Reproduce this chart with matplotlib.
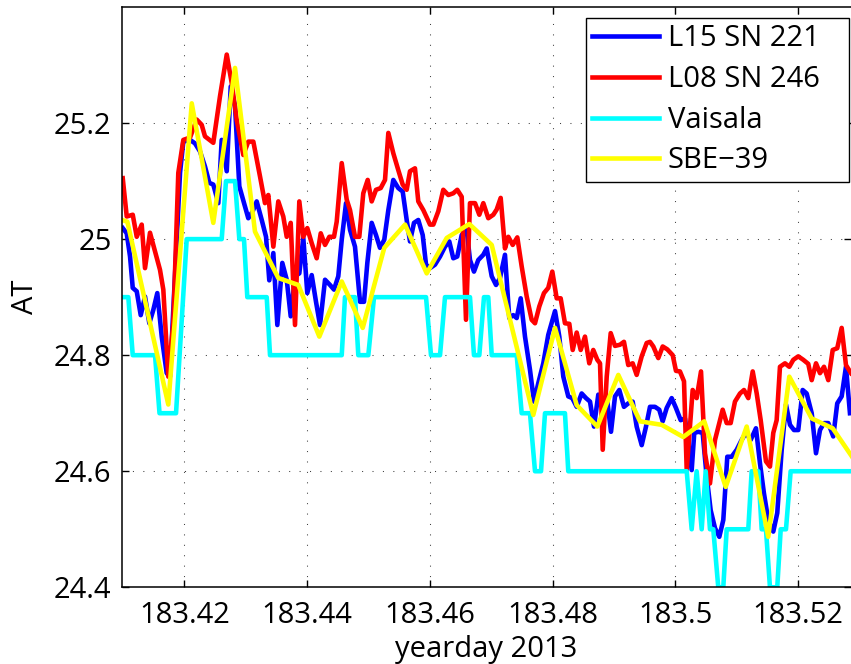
import matplotlib
matplotlib.use("Agg")
import matplotlib.pyplot as plt

# L15 SN 221 (blue)
t_l15 = [183.40997, 183.41062, 183.41116, 183.41160, 183.41225, 183.41290, 183.41360, 183.41430,
         183.41495, 183.41560, 183.41632, 183.41713, 183.41767, 183.41849, 183.41930, 183.41984,
         183.42093, 183.42174, 183.42256, 183.42337, 183.42407, 183.42472, 183.42554, 183.42609,
         183.42691, 183.42756, 183.42826, 183.42896, 183.42972, 183.43042, 183.43114, 183.43179,
         183.43261, 183.43331, 183.43384, 183.43450, 183.43515, 183.43596, 183.43668, 183.43733,
         183.43803, 183.43873, 183.43938, 183.44003, 183.44075, 183.44145, 183.44210, 183.44292,
         183.44373, 183.44438, 183.44508, 183.44564, 183.44634, 183.44699, 183.44780, 183.44862,
         183.44927, 183.44981, 183.45052, 183.45122, 183.45187, 183.45257, 183.45323, 183.45404,
         183.45485, 183.45557, 183.45622, 183.45676, 183.45741, 183.45811, 183.45883, 183.45937,
         183.46002, 183.46083, 183.46165, 183.46246, 183.46316, 183.46381, 183.46446, 183.46518,
         183.46599, 183.46653, 183.46718, 183.46788, 183.46870, 183.46925, 183.47007, 183.47077,
         183.47142, 183.47223, 183.47293, 183.47358, 183.47414, 183.47479, 183.47549, 183.47630,
         183.47696, 183.47766, 183.47847, 183.47928, 183.48038, 183.48108, 183.48173, 183.48254,
         183.48319, 183.48391, 183.48472, 183.48543, 183.48608, 183.48673, 183.48743, 183.48815,
         183.48880, 183.48950, 183.49015, 183.49085, 183.49161, 183.49231, 183.49303, 183.49368,
         183.49450, 183.49520, 183.49585, 183.49666, 183.49736, 183.49792, 183.49857, 183.49938,
         183.50008, 183.50085, 183.50155, 183.50209, 183.50264, 183.50306, 183.50372, 183.50443,
         183.50508, 183.50573, 183.50644, 183.50714, 183.50779, 183.50844, 183.50915, 183.50997,
         183.51078, 183.51148, 183.51225, 183.51311, 183.51376, 183.51441, 183.51511, 183.51593,
         183.51658, 183.51730, 183.51800, 183.51865, 183.51930, 183.52000, 183.52072, 183.52137,
         183.52219, 183.52289, 183.52354, 183.52419, 183.52489, 183.52570, 183.52635, 183.52707,
         183.52777, 183.52842]
at_l15 = [25.019, 25.010, 24.970, 24.916, 24.910, 24.869, 24.901, 24.855,
          24.878, 24.907, 24.832, 24.769, 24.763, 24.941, 25.114, 25.168,
          25.171, 25.165, 25.151, 25.125, 25.097, 25.094, 25.062, 25.171,
          25.117, 25.263, 25.229, 25.091, 25.062, 25.036, 25.048, 25.065,
          25.033, 25.004, 24.929, 24.976, 24.852, 24.959, 24.930, 24.867,
          24.936, 24.941, 25.002, 24.907, 24.938, 24.892, 24.852, 24.930,
          24.921, 24.913, 24.936, 24.999, 25.062, 25.016, 24.987, 24.892,
          24.892, 24.959, 25.028, 25.007, 24.985, 24.999, 25.050, 25.102,
          25.088, 25.082, 25.033, 24.996, 25.028, 25.033, 25.007, 24.956,
          24.950, 24.956, 24.970, 24.987, 24.996, 24.967, 24.970, 25.007,
          25.016, 24.964, 24.944, 24.964, 24.973, 24.984, 24.936, 24.921,
          24.933, 24.973, 24.864, 24.869, 24.864, 24.898, 24.832, 24.775,
          24.720, 24.752, 24.786, 24.835, 24.876, 24.832, 24.763, 24.729,
          24.726, 24.711, 24.734, 24.726, 24.720, 24.677, 24.732, 24.706,
          24.729, 24.668, 24.729, 24.740, 24.711, 24.717, 24.720, 24.677,
          24.645, 24.677, 24.711, 24.711, 24.706, 24.686, 24.709, 24.726,
          24.709, 24.688, 24.691, 24.648, 24.602, 24.666, 24.668, 24.666,
          24.591, 24.533, 24.502, 24.487, 24.516, 24.625, 24.625, 24.637,
          24.654, 24.666, 24.654, 24.674, 24.614, 24.562, 24.516, 24.496,
          24.528, 24.637, 24.715, 24.680, 24.671, 24.671, 24.740, 24.734,
          24.700, 24.631, 24.671, 24.683, 24.683, 24.660, 24.717, 24.729,
          24.780, 24.700]

# L08 SN 246 (red)
t_l08 = [183.40997, 183.41062, 183.41160, 183.41225, 183.41306, 183.41360, 183.41441, 183.41604,
         183.41658, 183.41739, 183.41821, 183.41902, 183.41984, 183.42093, 183.42202, 183.42283,
         183.42337, 183.42472, 183.42581, 183.42691, 183.42772, 183.42853, 183.42961, 183.43042,
         183.43124, 183.43233, 183.43314, 183.43368, 183.43450, 183.43531, 183.43612, 183.43668,
         183.43733, 183.43803, 183.43873, 183.43938, 183.44003, 183.44075, 183.44156, 183.44222,
         183.44292, 183.44362, 183.44438, 183.44482, 183.44564, 183.44645, 183.44699, 183.44780,
         183.44850, 183.44915, 183.44987, 183.45052, 183.45122, 183.45199, 183.45269, 183.45323,
         183.45404, 183.45485, 183.45557, 183.45622, 183.45676, 183.45757, 183.45811, 183.45893,
         183.46002, 183.46056, 183.46137, 183.46218, 183.46300, 183.46381, 183.46446, 183.46518,
         183.46588, 183.46653, 183.46735, 183.46805, 183.46870, 183.46951, 183.47033, 183.47088,
         183.47153, 183.47223, 183.47277, 183.47349, 183.47424, 183.47495, 183.47577, 183.47658,
         183.47712, 183.47782, 183.47858, 183.47928, 183.47994, 183.48065, 183.48130, 183.48200,
         183.48271, 183.48326, 183.48391, 183.48456, 183.48526, 183.48596, 183.48661, 183.48727,
         183.48771, 183.48815, 183.48880, 183.48945, 183.49015, 183.49096, 183.49161, 183.49231,
         183.49303, 183.49368, 183.49450, 183.49531, 183.49585, 183.49639, 183.49720, 183.49792,
         183.49867, 183.49955, 183.50008, 183.50073, 183.50139, 183.50183, 183.50236, 183.50280,
         183.50345, 183.50416, 183.50481, 183.50562, 183.50644, 183.50769, 183.50834, 183.50899,
         183.50969, 183.51051, 183.51116, 183.51186, 183.51258, 183.51323, 183.51388, 183.51474,
         183.51539, 183.51593, 183.51648, 183.51702, 183.51784, 183.51854, 183.51919, 183.52000,
         183.52082, 183.52163, 183.52219, 183.52289, 183.52354, 183.52419, 183.52489, 183.52561,
         183.52635, 183.52707, 183.52777, 183.52859]
at_l08 = [25.105, 25.039, 25.042, 25.004, 25.025, 24.950, 25.011, 24.947,
          24.913, 24.763, 24.856, 25.114, 25.171, 25.175, 25.206, 25.197,
          25.177, 25.166, 25.246, 25.318, 25.269, 25.206, 25.145, 25.168,
          25.168, 25.108, 25.062, 25.076, 24.987, 25.065, 25.039, 25.004,
          25.028, 24.852, 25.065, 25.004, 25.019, 24.993, 24.967, 25.010,
          24.990, 25.004, 25.004, 25.030, 25.131, 25.068, 25.050, 25.004,
          25.004, 25.079, 25.102, 25.065, 25.085, 25.088, 25.102, 25.183,
          25.148, 25.119, 25.094, 25.085, 25.117, 25.122, 25.065, 25.050,
          25.025, 25.025, 25.048, 25.085, 25.076, 25.079, 25.085, 25.073,
          24.861, 25.062, 25.062, 25.042, 25.062, 25.036, 25.042, 25.051,
          25.071, 24.984, 25.004, 24.990, 25.003, 24.953, 24.901, 24.861,
          24.855, 24.884, 24.907, 24.916, 24.944, 24.898, 24.898, 24.855,
          24.854, 24.809, 24.839, 24.809, 24.832, 24.786, 24.809, 24.792,
          24.786, 24.637, 24.763, 24.838, 24.816, 24.818, 24.823, 24.783,
          24.786, 24.766, 24.798, 24.821, 24.823, 24.815, 24.795, 24.815,
          24.810, 24.800, 24.773, 24.772, 24.755, 24.602, 24.677, 24.740,
          24.726, 24.772, 24.631, 24.579, 24.654, 24.706, 24.683, 24.683,
          24.720, 24.734, 24.740, 24.726, 24.772, 24.734, 24.688, 24.617,
          24.608, 24.666, 24.688, 24.780, 24.786, 24.780, 24.792, 24.798,
          24.792, 24.785, 24.757, 24.786, 24.769, 24.780, 24.757, 24.809,
          24.812, 24.847, 24.783, 24.769]

# Vaisala (cyan)
t_vai = [183.40985, 183.41088, 183.41160, 183.41523, 183.41596, 183.41865, 183.42039, 183.42609,
         183.42679, 183.42826, 183.42896, 183.42972, 183.43026, 183.43342, 183.43396, 183.44564,
         183.44617, 183.44780, 183.44834, 183.44997, 183.45090, 183.45937, 183.46018, 183.46165,
         183.46246, 183.46653, 183.46718, 183.46805, 183.46881, 183.46951, 183.47007, 183.47414,
         183.47495, 183.47630, 183.47712, 183.47810, 183.47875, 183.48200, 183.48254, 183.50183,
         183.50264, 183.50345, 183.50427, 183.50492, 183.50562, 183.50616, 183.50697, 183.50779,
         183.50834, 183.51186, 183.51241, 183.51349, 183.51404, 183.51474, 183.51539, 183.51658,
         183.51714, 183.51800, 183.51876, 183.52859]
at_vai = [24.9, 24.9, 24.8, 24.8, 24.7, 24.7, 25.0, 25.0,
          25.1, 25.1, 25.0, 25.0, 24.9, 24.9, 24.8, 24.8,
          24.9, 24.9, 24.8, 24.8, 24.9, 24.9, 24.8, 24.8,
          24.9, 24.9, 24.8, 24.8, 24.9, 24.9, 24.8, 24.8,
          24.7, 24.7, 24.6, 24.6, 24.7, 24.7, 24.6, 24.6,
          24.5, 24.6, 24.5, 24.6, 24.5, 24.5, 24.4, 24.4,
          24.5, 24.5, 24.6, 24.6, 24.5, 24.5, 24.4, 24.4,
          24.5, 24.5, 24.6, 24.6]

# SBE-39 (yellow)
t_sbe = [183.40985, 183.41072, 183.41739, 183.42121, 183.42472, 183.42826, 183.43151, 183.43531,
         183.43857, 183.44199, 183.44564, 183.44906, 183.45257, 183.45595, 183.45948, 183.46274,
         183.46642, 183.47007, 183.47684, 183.48038, 183.48391, 183.48727, 183.49069, 183.49422,
         183.49775, 183.50127, 183.50469, 183.50818, 183.51160, 183.51511, 183.51854, 183.52219,
         183.52561, 183.52908]
at_sbe = [25.033, 25.030, 24.715, 25.234, 25.028, 25.295, 25.013, 24.933,
          24.921, 24.832, 24.927, 24.847, 24.985, 25.025, 24.941, 25.002,
          25.026, 24.990, 24.697, 24.847, 24.714, 24.677, 24.766, 24.686,
          24.680, 24.659, 24.686, 24.573, 24.677, 24.487, 24.763, 24.691,
          24.674, 24.620]

x_ticks = [183.42, 183.44, 183.46, 183.48, 183.50, 183.52]
x_labels = ["183.42", "183.44", "183.46", "183.48", "183.5", "183.52"]
y_ticks = [24.4, 24.6, 24.8, 25.0, 25.2]
y_labels = ["24.4", "24.6", "24.8", "25", "25.2"]

plt.rcParams['font.family'] = ['Open Sans', 'DejaVu Sans']
fs = 21

fig = plt.figure(figsize=(8.51, 6.64), dpi=100)
ax = fig.add_axes([0.14336, 0.11551, 0.85664, 0.87395])

lw = 3.3
ax.plot(t_l15, at_l15, color=(0, 0, 1), lw=lw, label="L15 SN 221")
ax.plot(t_l08, at_l08, color=(1, 0, 0), lw=lw, label="L08 SN 246")
ax.plot(t_vai, at_vai, color=(0, 1, 1), lw=lw, label="Vaisala")
ax.plot(t_sbe, at_sbe, color=(1, 1, 0), lw=lw, label="SBE\u221239")

ax.set_xlim(183.40985, 183.52859)
ax.set_ylim(24.4, 25.4)
ax.set_xticks(x_ticks)
ax.set_xticklabels(x_labels)
ax.set_yticks(y_ticks)
ax.set_yticklabels(y_labels)

ax.grid(True, color='0.25', linestyle=(0, (1, 9)), linewidth=0.75)
ax.tick_params(direction='in', length=5, width=1, top=True, right=True,
               labelsize=fs, colors='black')
ax.tick_params(axis='y', pad=7.5)
ax.tick_params(axis='x', pad=10)
for s in ['left', 'bottom', 'top']:
    ax.spines[s].set_linewidth(1.1)
ax.spines['right'].set_visible(False)

ax.set_xlabel("yearday 2013", fontsize=fs)
ax.set_ylabel("AT", fontsize=fs)
ax.xaxis.set_label_coords(0.5, -0.083)
ax.yaxis.set_label_coords(-0.113, 0.5)

leg = ax.legend(loc='upper left', bbox_to_anchor=(0.6882, 0.7319, 0.3095, 0.241),
                bbox_transform=fig.transFigure, mode='expand', borderaxespad=0,
                fontsize=fs, fancybox=False, framealpha=1, edgecolor='black',
                handlelength=2.3, handletextpad=0.3, labelspacing=0.4,
                borderpad=0.22)
leg.get_frame().set_linewidth(1.0)

fig.savefig("out.png", dpi=100)
